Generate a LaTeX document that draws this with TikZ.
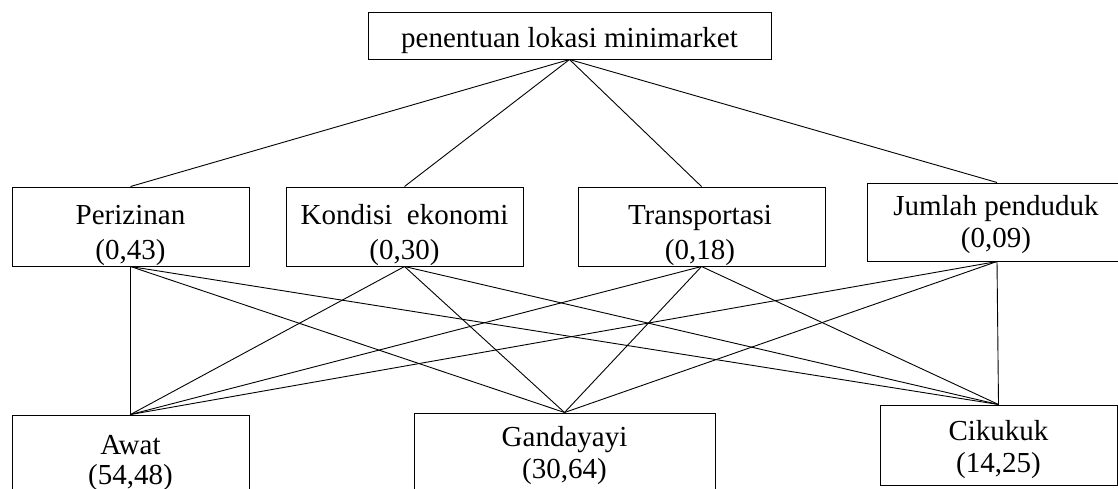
\documentclass[tikz,border=0pt]{standalone}
\usepackage{fontspec}
\setmainfont{Liberation Serif}
\begin{document}
\begin{tikzpicture}[x=1pt,y=-1pt,
  box/.style={draw, line width=1pt, rectangle, inner sep=0pt},
  lbl/.style={font=\fontsize{29}{34}\selectfont, anchor=base, inner sep=0pt},
  link/.style={line width=0.9pt}]
\useasboundingbox (0,0) rectangle (1118,488);
% top
\node[box, minimum width=403pt, minimum height=47pt] (top) at (569.5,35.5) {};
\node[lbl] (topt) at (569.5,47) {penentuan lokasi minimarket};
% criteria
\node[box, minimum width=237pt, minimum height=79pt] (p) at (130.5,226.5) {};
\node[box, minimum width=237pt, minimum height=79pt] (k) at (404.5,226.5) {};
\node[box, minimum width=247pt, minimum height=79pt] (t) at (701.5,226.5) {};
\node[box, minimum width=260pt, minimum height=78pt] (j) at (997,222) {};
\node[lbl] (p1) at (130.5,224) {Perizinan};
\node[lbl] (p2) at (130.5,259) {(0,43)};
\node[lbl] (k1) at (404.5,224) {Kondisi\ \ ekonomi};
\node[lbl] (k2) at (404.5,259) {(0,30)};
\node[lbl] (t1) at (700,224) {Transportasi};
\node[lbl] (t2) at (700,259) {(0,18)};
\node[lbl] (j1) at (996,215) {Jumlah penduduk};
\node[lbl] (j2) at (996,247) {(0,09)};
% alternatives
\node[box, minimum width=237pt, minimum height=100pt] (a) at (130.5,465) {};
\node[box, minimum width=301pt, minimum height=100pt] (g) at (564.5,463) {};
\node[box, minimum width=237pt, minimum height=80pt] (c) at (998.5,445) {};
\node[lbl] (a1) at (130.5,454) {Awat};
\node[lbl] (a2) at (130.5,484) {(54,48)};
\node[lbl] (g1) at (564.5,446) {Gandayayi};
\node[lbl] (g2) at (564.5,478) {(30,64)};
\node[lbl] (c1) at (998.5,440) {Cikukuk};
\node[lbl] (c2) at (998.5,472) {(14,25)};
% links
\foreach \m in {p,k,t,j}{
  \draw[link] (top.south) -- (\m.north);
  \foreach \b in {a,g,c}{
    \draw[link] (\m.south) -- (\b.north);
  }
}
\end{tikzpicture}
\end{document}
